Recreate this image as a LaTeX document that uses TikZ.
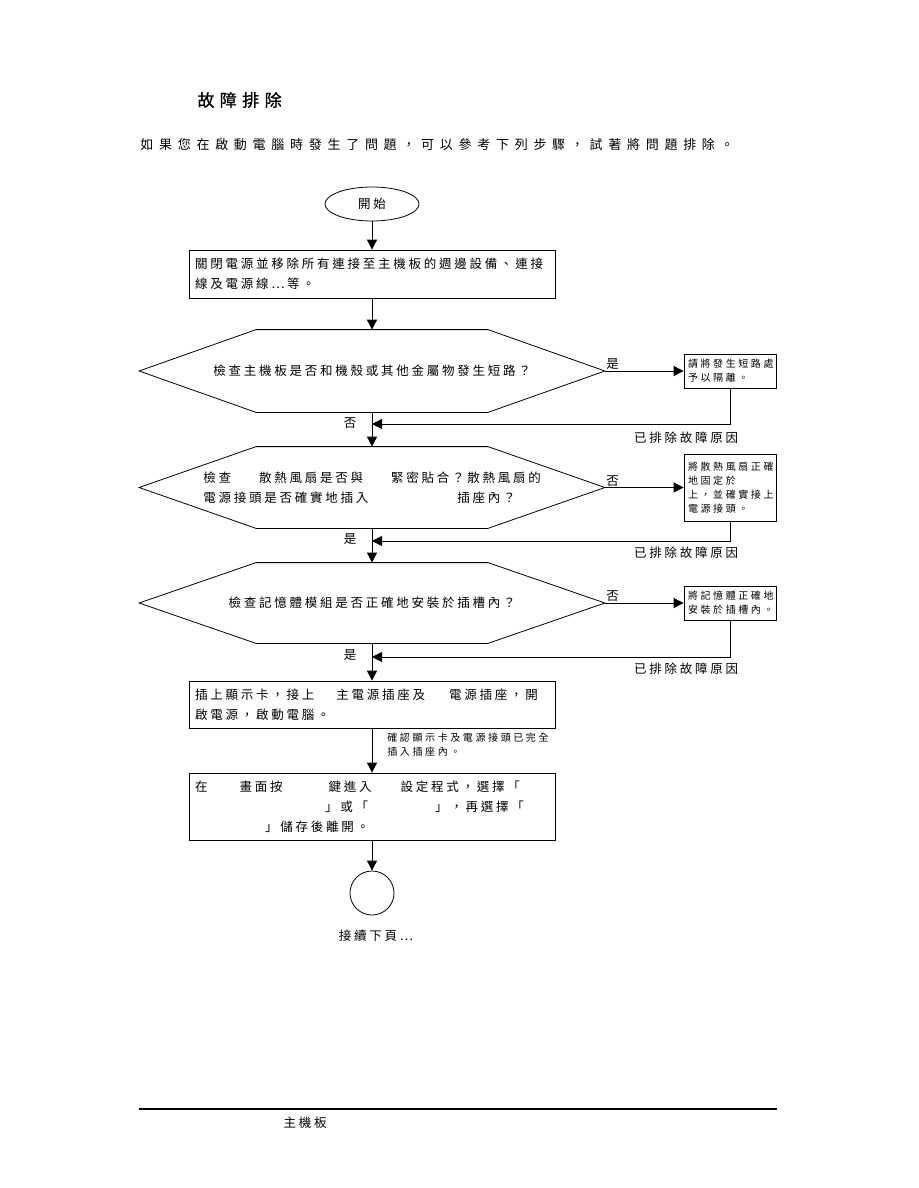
\documentclass[tikz,border=0pt]{standalone}
\usepackage{fontspec}
\setmainfont{Noto Sans CJK TC}
\usetikzlibrary{arrows.meta, shapes.geometric, positioning}

% outline of a decision node
\newcommand{\hexframe}[1]{%
  \draw (#1.west) -- ([xshift=117pt]#1.north west) -- ([xshift=-117pt]#1.north east)
    -- (#1.east) -- ([xshift=-117pt]#1.south east) -- ([xshift=117pt]#1.south west) -- cycle;}

\begin{document}
\begin{tikzpicture}[x=1pt, y=-1pt, line width=0.8pt,
  txt/.style={font=\fontsize{12.5}{20}\selectfont\addfontfeature{LetterSpace=22}},
  smalltxt/.style={font=\fontsize{10}{14}\selectfont\addfontfeature{LetterSpace=26}},
  procbox/.style={draw, txt, minimum width=366, text width=354, inner xsep=6, align=left},
  hexbox/.style={txt, minimum width=465, minimum height=81, inner sep=0, align=left},
  sidebox/.style={draw, smalltxt, text width=84, inner xsep=4, align=left},
  flow/.style={-{Triangle[length=10pt,width=10pt]}},
  lbl/.style={txt, inner sep=1pt}]
\useasboundingbox (0,0) rectangle (918,1188);

\node[anchor=west, inner sep=0, font=\fontsize{17}{20}\selectfont\addfontfeature{LetterSpace=32,FakeBold=0.8}] (title) at (197,100) {故障排除};
\node[anchor=west, inner sep=0, font=\fontsize{13}{16}\selectfont\addfontfeature{LetterSpace=44}] (intro) at (140,145) {如果您在啟動電腦時發生了問題，可以參考下列步驟，試著將問題排除。};

\node[draw, ellipse, txt, minimum width=94, minimum height=34, inner sep=0] (start) at (372,204) {開始};
\node[procbox, minimum height=48] (power) at (372,274) {關閉電源並移除所有連接至主機板的週邊設備、連接\\線及電源線⋯等。};

\node[hexbox, minimum height=82] (shortchk) at (372,371) {檢查主機板是否和機殼或其他金屬物發生短路？};
\hexframe{shortchk}
\node[sidebox, minimum height=34] (isolate) at (730,371) {請將發生短路處\\予以隔離。};
\coordinate (join1) at (372,424);
\node[lbl] (no1) at (350,423) {否};
\node[txt] (fixed1) at (686,438) {已排除故障原因};

\node[hexbox] (fanchk) at (372,487.5) {檢查\hspace*{28pt}散熱風扇是否與\hspace*{28pt}緊密貼合？散熱風扇的\\電源接頭是否確實地插入\hspace*{89pt}插座內？};
\hexframe{fanchk}
\node[sidebox, minimum height=67] (fanfix) at (730,487.5) {將散熱風扇正確\\地固定於\\上，並確實接上\\電源接頭。};
\coordinate (join2) at (372,541);
\node[lbl] (yes2) at (350,539) {是};
\node[txt] (fixed2) at (686,553) {已排除故障原因};

\node[hexbox, minimum height=80] (memchk) at (372,603) {檢查記憶體模組是否正確地安裝於插槽內？};
\hexframe{memchk}
\node[sidebox, minimum height=34] (memfix) at (730,603) {將記憶體正確地\\安裝於插槽內。};
\coordinate (join3) at (372,657);
\node[lbl] (yes3) at (350,655) {是};
\node[txt] (fixed3) at (686,669) {已排除故障原因};

\node[procbox, minimum height=47] (boot) at (372,704.5) {插上顯示卡，接上\hspace*{22pt}主電源插座及\hspace*{24pt}電源插座，開\\啟電源，啟動電腦。};
\node[smalltxt, anchor=north west, inner sep=0, align=left] (checknote) at (387,733) {確認顯示卡及電源接頭已完全\\插入插座內。};
\node[procbox, minimum height=67] (bios) at (372,806.5) {在\hspace*{32pt}畫面按\hspace*{46pt}鍵進入\hspace*{29pt}設定程式，選擇「\\\hspace*{130pt}」或「\hspace*{67pt}」，再選擇「\\\hspace*{70pt}」儲存後離開。};

\node[draw, circle, minimum size=44, inner sep=0] (cont) at (372,893) {};
\node[txt] (nextpg) at (376,936) {接續下頁⋯};

\draw[flow] (start) -- (power);
\draw[flow] (power) -- (shortchk.north);
\draw[flow] (shortchk.east) -- node[lbl, anchor=south west, pos=0] {是} (isolate.west);
\draw[flow] (isolate.south) |- (join1);
\draw[flow] (shortchk.south) -- (fanchk.north);
\draw[flow] (fanchk.east) -- node[lbl, anchor=south west, pos=0] {否} (fanfix.west);
\draw[flow] (fanfix.south) |- (join2);
\draw[flow] (fanchk.south) -- (memchk.north);
\draw[flow] (memchk.east) -- node[lbl, anchor=south west, pos=0] {否} (memfix.west);
\draw[flow] (memfix.south) |- (join3);
\draw[flow] (memchk.south) -- (boot.north);
\draw[flow] (boot) -- (bios);
\draw[flow] (bios) -- (cont);

\draw[line width=2.4pt] (139,1109) -- (777,1109);
\node[txt] (footer) at (305,1123) {主機板};
\end{tikzpicture}
\end{document}
